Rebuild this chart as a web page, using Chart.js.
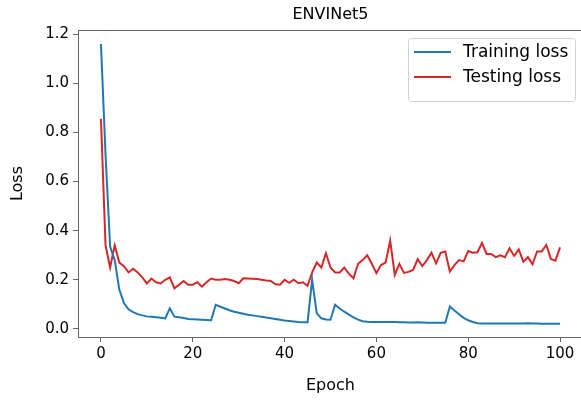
<!DOCTYPE html>
<html>
<head>
<meta charset="utf-8">
<script src="https://cdn.jsdelivr.net/npm/chart.js@4/dist/chart.umd.min.js"></script>
<style>
  html, body { margin: 0; padding: 0; background: #fff; overflow: hidden; }
  #wrap { width: 581px; height: 401px; overflow: hidden; }
</style>
</head>
<body>
<div id="wrap"><canvas id="lossChart" width="600" height="401"></canvas></div>
<script>
const chartTitle = "ENVINet5";
const xTicks = [0, 20, 40, 60, 80, 100];
const yTicks = [0.0, 0.2, 0.4, 0.6, 0.8, 1.0, 1.2];

// one value per epoch 0..100
const trainingLoss = [
  1.16, 0.71, 0.335, 0.28, 0.16, 0.105, 0.08, 0.068, 0.06, 0.055,
  0.051, 0.049, 0.047, 0.045, 0.043, 0.084, 0.05, 0.047, 0.044, 0.04,
  0.039, 0.038, 0.037, 0.036, 0.035, 0.098, 0.09, 0.083, 0.076, 0.07,
  0.066, 0.062, 0.058, 0.055, 0.052, 0.049, 0.046, 0.043, 0.04, 0.037,
  0.034, 0.032, 0.03, 0.028, 0.027, 0.027, 0.2, 0.064, 0.043, 0.038,
  0.037, 0.098, 0.083, 0.07, 0.058, 0.047, 0.038, 0.031, 0.029, 0.028,
  0.028, 0.028, 0.028, 0.028, 0.028, 0.027, 0.027, 0.026, 0.026, 0.027,
  0.026, 0.025, 0.025, 0.025, 0.025, 0.025, 0.091, 0.075, 0.06, 0.045,
  0.035, 0.028, 0.023, 0.022, 0.022, 0.022, 0.022, 0.022, 0.022, 0.022,
  0.022, 0.022, 0.022, 0.023, 0.022, 0.022, 0.021, 0.021, 0.021, 0.021,
  0.021
];
const testingLoss = [
  0.855, 0.34, 0.25, 0.34, 0.27, 0.255, 0.23, 0.245, 0.23, 0.21,
  0.185, 0.205, 0.19, 0.185, 0.2, 0.21, 0.165, 0.18, 0.195, 0.18,
  0.18, 0.19, 0.172, 0.19, 0.205, 0.2, 0.2, 0.203, 0.2, 0.195,
  0.186, 0.206, 0.205, 0.204, 0.203, 0.2, 0.197, 0.195, 0.182, 0.18,
  0.2, 0.188, 0.2, 0.186, 0.19, 0.175, 0.23, 0.27, 0.25, 0.308,
  0.25, 0.23, 0.23, 0.25, 0.225, 0.206, 0.265, 0.28, 0.3, 0.265,
  0.227, 0.26, 0.27, 0.359, 0.22, 0.265, 0.228, 0.232, 0.24, 0.284,
  0.256, 0.28, 0.31, 0.267, 0.31, 0.315, 0.233, 0.26, 0.28, 0.275,
  0.317, 0.31, 0.312, 0.35, 0.305, 0.305, 0.292, 0.3, 0.292, 0.328,
  0.297, 0.324, 0.274, 0.292, 0.263, 0.315, 0.315, 0.342, 0.285, 0.278,
  0.332
];
const epochs = trainingLoss.map((_, i) => i);

const seriesColors = {
  "Training loss": "#1f77b4",
  "Testing loss": "#d62728",
};
const FONT = "'DejaVu Sans', sans-serif";

const datasets = [
  { label: "Training loss", values: trainingLoss },
  { label: "Testing loss", values: testingLoss },
].map((s) => ({
  label: s.label,
  data: epochs.map((e, i) => ({ x: e, y: s.values[i] })),
  borderColor: seriesColors[s.label],
  backgroundColor: seriesColors[s.label],
  borderWidth: 2,
  pointRadius: 0,
  tension: 0,
}));

// top frame line, title and matplotlib style legend box
const decor = {
  id: "decor",
  afterDraw(chart) {
    const { ctx, chartArea: a } = chart;
    ctx.save();
    ctx.strokeStyle = "#666";
    ctx.lineWidth = 1;
    ctx.beginPath();
    ctx.moveTo(a.left, a.top + 0.5);
    ctx.lineTo(a.right, a.top + 0.5);
    ctx.stroke();

    ctx.fillStyle = "#000";
    ctx.font = "16px " + FONT;
    ctx.textAlign = "center";
    ctx.textBaseline = "middle";
    ctx.fillText(chartTitle, (a.left + a.right) / 2, 15);

    const bx = 408, by = 38, bw = 167, bh = 63;
    ctx.fillStyle = "rgba(255,255,255,0.8)";
    ctx.strokeStyle = "#d0d0d0";
    ctx.beginPath();
    ctx.roundRect(bx + 0.5, by + 0.5, bw, bh, 3);
    ctx.fill();
    ctx.stroke();
    ctx.font = "17px " + FONT;
    ctx.textAlign = "left";
    chart.data.datasets.forEach((ds, i) => {
      const y = by + 14 + i * 25;
      ctx.strokeStyle = ds.borderColor;
      ctx.lineWidth = 2;
      ctx.beginPath();
      ctx.moveTo(414, y);
      ctx.lineTo(451, y);
      ctx.stroke();
      ctx.fillStyle = "#000";
      ctx.fillText(ds.label, 463, y + 1);
    });
    ctx.restore();
  },
};

const ctx = document.getElementById("lossChart");
new Chart(ctx, {
  type: "line",
  data: { datasets },
  plugins: [decor],
  options: {
    responsive: false,
    animation: false,
    layout: { padding: { top: 30, right: 17, left: 0, bottom: 0 } },
    plugins: { legend: { display: false }, title: { display: false }, tooltip: { enabled: false } },
    scales: {
      x: {
        type: "linear",
        min: -5,
        max: 105,
        afterBuildTicks: (s) => { s.ticks = xTicks.map((v) => ({ value: v })); },
        afterFit: (s) => { s.height = 64; },
        grid: { drawOnChartArea: false, drawTicks: true, tickLength: 5, color: "#666" },
        border: { display: true, color: "#666" },
        ticks: { font: { family: FONT, size: 15 }, color: "#000", padding: 3, maxRotation: 0 },
        title: { display: true, text: "Epoch", font: { family: FONT, size: 16 }, color: "#000", padding: { top: 0, bottom: 6 } },
      },
      y: {
        min: -0.033,
        max: 1.217,
        afterBuildTicks: (s) => { s.ticks = yTicks.map((v) => ({ value: v })); },
        afterFit: (s) => { s.width = 78; },
        grid: { drawOnChartArea: false, drawTicks: true, tickLength: 5, color: "#666" },
        border: { display: true, color: "#666" },
        ticks: { font: { family: FONT, size: 15 }, color: "#000", padding: 4, callback: (v) => v.toFixed(1) },
        title: { display: true, text: "Loss", font: { family: FONT, size: 16 }, color: "#000", padding: { top: 8, bottom: 0 } },
      },
    },
  },
});
</script>
</body>
</html>
